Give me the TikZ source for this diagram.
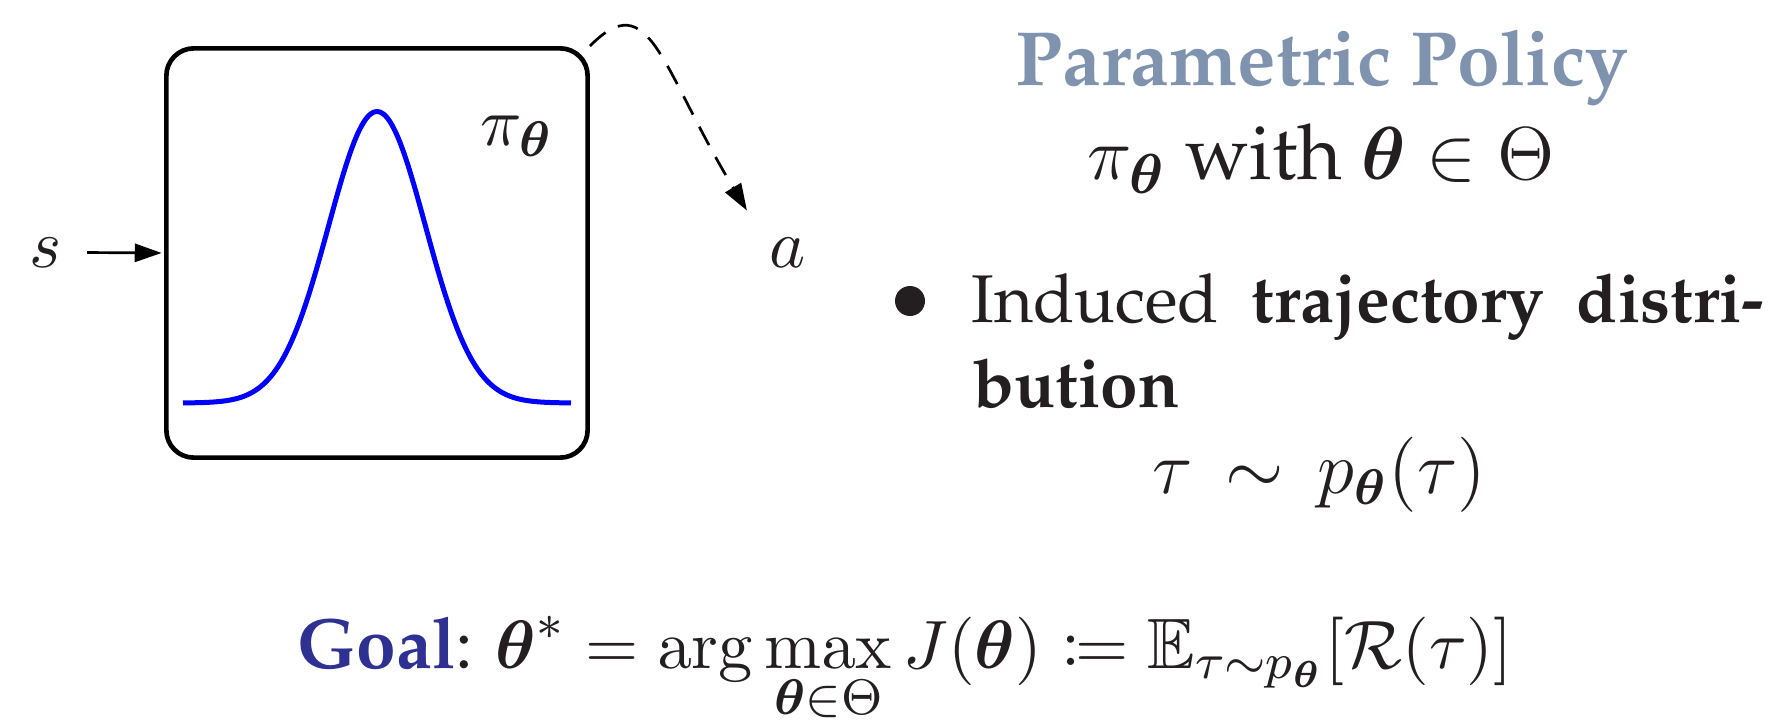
\documentclass[tikz,border=0pt]{standalone}
\usepackage[T1]{fontenc}
\renewcommand{\rmdefault}{ppl}
\usepackage{amsmath,amssymb,mathtools}
\usetikzlibrary{arrows.meta}
\definecolor{titleblue}{RGB}{127,147,174}
\definecolor{goalblue}{RGB}{46,49,146}
\definecolor{textcol}{RGB}{35,31,32}
\begin{document}
\begin{tikzpicture}[x=0.16pt,y=-0.16pt,
  thinline/.style={line width=0.43pt},
  tip/.style={-{Triangle[length=4.3pt,width=2.9pt]}},
  txt/.style={inner sep=0pt,text=textcol},
  f67/.style={font={\fontsize{10.8pt}{13pt}\selectfont}},
  f77/.style={font={\fontsize{12.3pt}{15pt}\selectfont}},
  f74/.style={font={\fontsize{11.6pt}{14pt}\selectfont}},
  fgoal/.style={font={\fontsize{11.4pt}{14pt}\selectfont}}]
\useasboundingbox (0,0) rectangle (1770,724);
% policy box
\node[draw,line width=0.75pt,rounded corners=4.4pt,minimum width=67.41pt,
      minimum height=65.49pt,inner sep=0pt] (box) at (377,253) {};
% gaussian
\draw[blue,line width=0.8pt] plot[domain=-4:4,samples=121,smooth]
  ({377+48.5*\x},{403-291.5*exp(-0.5*\x*\x)});
\node[txt,f67,anchor=base west] (pilabel) at (479,145) {$\pi_{\boldsymbol\theta}$};
% input and output
\node[txt,f67,anchor=base] (s) at (46,267) {$s$};
\node[txt,f67,anchor=base] (a) at (788,267) {$a$};
\draw[thinline,tip,shorten <=3.8pt,shorten >=0.38pt] (s) -- (box.west);
\draw[thinline,tip,dash pattern=on 3.3pt off 2.2pt,shorten >=4.8pt]
  (box.north east) .. controls (650,-15) and (660,66) .. ([xshift=-1pt]a.north west);
% right text
\node[txt,f77,anchor=base,text=titleblue] (title) at (1322,85) {\textbf{Parametric Policy}};
\node[txt,f77,anchor=base] (param) at (1321,180) {$\pi_{\boldsymbol\theta}$ with $\boldsymbol\theta\in\Theta$};
\node[circle,fill=textcol,minimum size=4.8pt,inner sep=0pt] (bul) at (910,301) {};
\node[txt,f67,anchor=base west] (line1) at (970,322) {\makebox[126.9pt][s]{Induced \textbf{trajectory distri-}}};
\node[txt,f67,anchor=base west] (line2) at (972,407) {\textbf{bution}};
\node[txt,f74,anchor=base] (tau) at (1319,493) {$\tau\,\sim\,p_{\boldsymbol\theta}(\tau)$};
% goal
\node[txt,fgoal,anchor=base] (goal) at (905,668)
  {\textcolor{goalblue}{\textbf{Goal}}: $\displaystyle\boldsymbol\theta^{*}=\arg\max_{\boldsymbol\theta\in\Theta}J(\boldsymbol\theta)\coloneqq\mathbb{E}_{\tau\sim p_{\boldsymbol\theta}}[\mathcal{R}(\tau)]$};
\end{tikzpicture}
\end{document}
